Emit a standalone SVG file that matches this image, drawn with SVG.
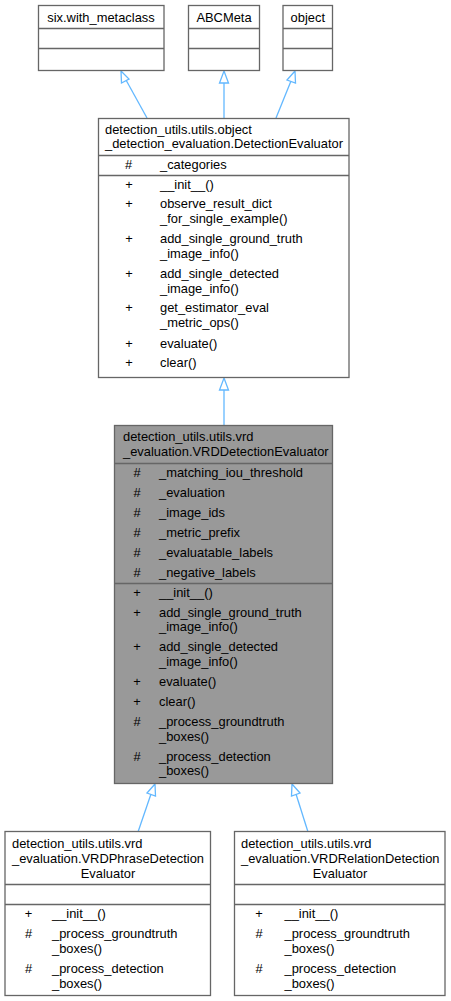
<svg xmlns="http://www.w3.org/2000/svg" width="451" height="1001" viewBox="0 0 451 1001">
<style>
text{font-family:"Liberation Sans",Arial,sans-serif;font-size:12.9px;fill:#000}
.box{fill:#fff;stroke:#666;stroke-width:1.3}
.focus{fill:#999;stroke:#666;stroke-width:1.3}
.div{stroke:#666;stroke-width:1.3}
.c{text-anchor:middle}
.edge{fill:none;stroke:#63b8ff;stroke-width:1.3}
.head{fill:#fff;stroke:#63b8ff;stroke-width:1.3}
</style>
<rect width="451" height="1001" fill="#fff"/>
<g id="connectors">
<path class="edge" d="M147,118 L126,80"/>
<polygon class="head" points="121,71 129,79 121.5,83"/>
<path class="edge" d="M224,118 L224,82"/>
<polygon class="head" points="224,71 228.5,83 219.5,83"/>
<path class="edge" d="M276,118 L291,81"/>
<polygon class="head" points="295,71 295.5,83 287,80"/>
<path class="edge" d="M224,425 L224,389"/>
<polygon class="head" points="224,378 228.5,390 219.5,390"/>
<path class="edge" d="M138,832 L151,794"/>
<polygon class="head" points="155,784 155.5,796 147,793"/>
<path class="edge" d="M308,832 L296,794"/>
<polygon class="head" points="292,784 300,793 291.5,796"/>
</g>
<g id="node_six">
<rect class="box" x="38.5" y="5.5" width="125.5" height="65"/>
<line class="div" x1="38.5" y1="28.5" x2="164" y2="28.5"/>
<line class="div" x1="38.5" y1="48.5" x2="164" y2="48.5"/>
<text class="c" x="101" y="21.5">six.with_metaclass</text>
</g>
<g id="node_abcmeta">
<rect class="box" x="188.5" y="5.5" width="71" height="65"/>
<line class="div" x1="188.5" y1="28.5" x2="259.5" y2="28.5"/>
<line class="div" x1="188.5" y1="48.5" x2="259.5" y2="48.5"/>
<text class="c" x="224" y="21.5">ABCMeta</text>
</g>
<g id="node_object">
<rect class="box" x="283" y="5.5" width="49.5" height="65"/>
<line class="div" x1="283" y1="28.5" x2="332.5" y2="28.5"/>
<line class="div" x1="283" y1="48.5" x2="332.5" y2="48.5"/>
<text class="c" x="307.8" y="21.5">object</text>
</g>
<g id="node_detection_evaluator">
<rect class="box" x="98.5" y="118.5" width="250.5" height="259"/>
<line class="div" x1="98.5" y1="155.5" x2="349" y2="155.5"/>
<line class="div" x1="98.5" y1="175.5" x2="349" y2="175.5"/>
<text x="105" y="134">detection_utils.utils.object</text>
<text x="105" y="148">_detection_evaluation.DetectionEvaluator</text>
<text class="c" x="128.5" y="168.5">#</text>
<text x="160" y="168.5">_categories</text>
<text class="c" x="129" y="188.5">+</text><text x="160" y="188.5">__init__()</text>
<text class="c" x="129" y="208">+</text><text x="160" y="208">observe_result_dict</text>
<text x="160" y="223">_for_single_example()</text>
<text class="c" x="129" y="243">+</text><text x="160" y="243">add_single_ground_truth</text>
<text x="160" y="258">_image_info()</text>
<text class="c" x="129" y="278">+</text><text x="160" y="278">add_single_detected</text>
<text x="160" y="293">_image_info()</text>
<text class="c" x="129" y="312">+</text><text x="160" y="312">get_estimator_eval</text>
<text x="160" y="327">_metric_ops()</text>
<text class="c" x="129" y="348">+</text><text x="160" y="348">evaluate()</text>
<text class="c" x="129" y="367">+</text><text x="160" y="367">clear()</text>
</g>
<g id="node_vrd_detection_evaluator">
<rect class="focus" x="114.5" y="425.5" width="218" height="358"/>
<line class="div" x1="114.5" y1="463.5" x2="332.5" y2="463.5"/>
<line class="div" x1="114.5" y1="583.5" x2="332.5" y2="583.5"/>
<text x="123" y="441">detection_utils.utils.vrd</text>
<text x="123" y="456">_evaluation.VRDDetectionEvaluator</text>
<text class="c" x="137" y="476.5">#</text><text x="159" y="476.5">_matching_iou_threshold</text>
<text class="c" x="137" y="496.5">#</text><text x="159" y="496.5">_evaluation</text>
<text class="c" x="137" y="516.5">#</text><text x="159" y="516.5">_image_ids</text>
<text class="c" x="137" y="536.5">#</text><text x="159" y="536.5">_metric_prefix</text>
<text class="c" x="137" y="556.5">#</text><text x="159" y="556.5">_evaluatable_labels</text>
<text class="c" x="137" y="576.5">#</text><text x="159" y="576.5">_negative_labels</text>
<text class="c" x="137" y="596.5">+</text><text x="159" y="596.5">__init__()</text>
<text class="c" x="137" y="616.5">+</text><text x="159" y="616.5">add_single_ground_truth</text>
<text x="159" y="631">_image_info()</text>
<text class="c" x="137" y="650.5">+</text><text x="159" y="650.5">add_single_detected</text>
<text x="159" y="665.5">_image_info()</text>
<text class="c" x="137" y="685.5">+</text><text x="159" y="685.5">evaluate()</text>
<text class="c" x="137" y="705.5">+</text><text x="159" y="705.5">clear()</text>
<text class="c" x="137" y="725.5">#</text><text x="159" y="725.5">_process_groundtruth</text>
<text x="159" y="740.5">_boxes()</text>
<text class="c" x="137" y="760.5">#</text><text x="159" y="760.5">_process_detection</text>
<text x="159" y="775">_boxes()</text>
</g>
<g id="node_vrd_phrase">
<rect class="box" x="5" y="831.5" width="205.5" height="164"/>
<line class="div" x1="5" y1="884.5" x2="210.5" y2="884.5"/>
<line class="div" x1="5" y1="904.5" x2="210.5" y2="904.5"/>
<text x="12" y="847.5">detection_utils.utils.vrd</text>
<text x="12" y="862.5">_evaluation.VRDPhraseDetection</text>
<text class="c" x="108" y="877.5">Evaluator</text>
<text class="c" x="28.5" y="918">+</text><text x="52" y="918">__init__()</text>
<text class="c" x="28.5" y="938">#</text><text x="52" y="938">_process_groundtruth</text>
<text x="52" y="953">_boxes()</text>
<text class="c" x="28.5" y="973">#</text><text x="52" y="973">_process_detection</text>
<text x="52" y="987.5">_boxes()</text>
</g>
<g id="node_vrd_relation">
<rect class="box" x="234.5" y="831.5" width="210.5" height="164"/>
<line class="div" x1="234.5" y1="884.5" x2="445" y2="884.5"/>
<line class="div" x1="234.5" y1="904.5" x2="445" y2="904.5"/>
<text x="241" y="847.5">detection_utils.utils.vrd</text>
<text x="241" y="862.5">_evaluation.VRDRelationDetection</text>
<text class="c" x="340" y="877.5">Evaluator</text>
<text class="c" x="259" y="918">+</text><text x="284.5" y="918">__init__()</text>
<text class="c" x="259" y="938">#</text><text x="284.5" y="938">_process_groundtruth</text>
<text x="284.5" y="953">_boxes()</text>
<text class="c" x="259" y="973">#</text><text x="284.5" y="973">_process_detection</text>
<text x="284.5" y="987.5">_boxes()</text>
</g>
</svg>
